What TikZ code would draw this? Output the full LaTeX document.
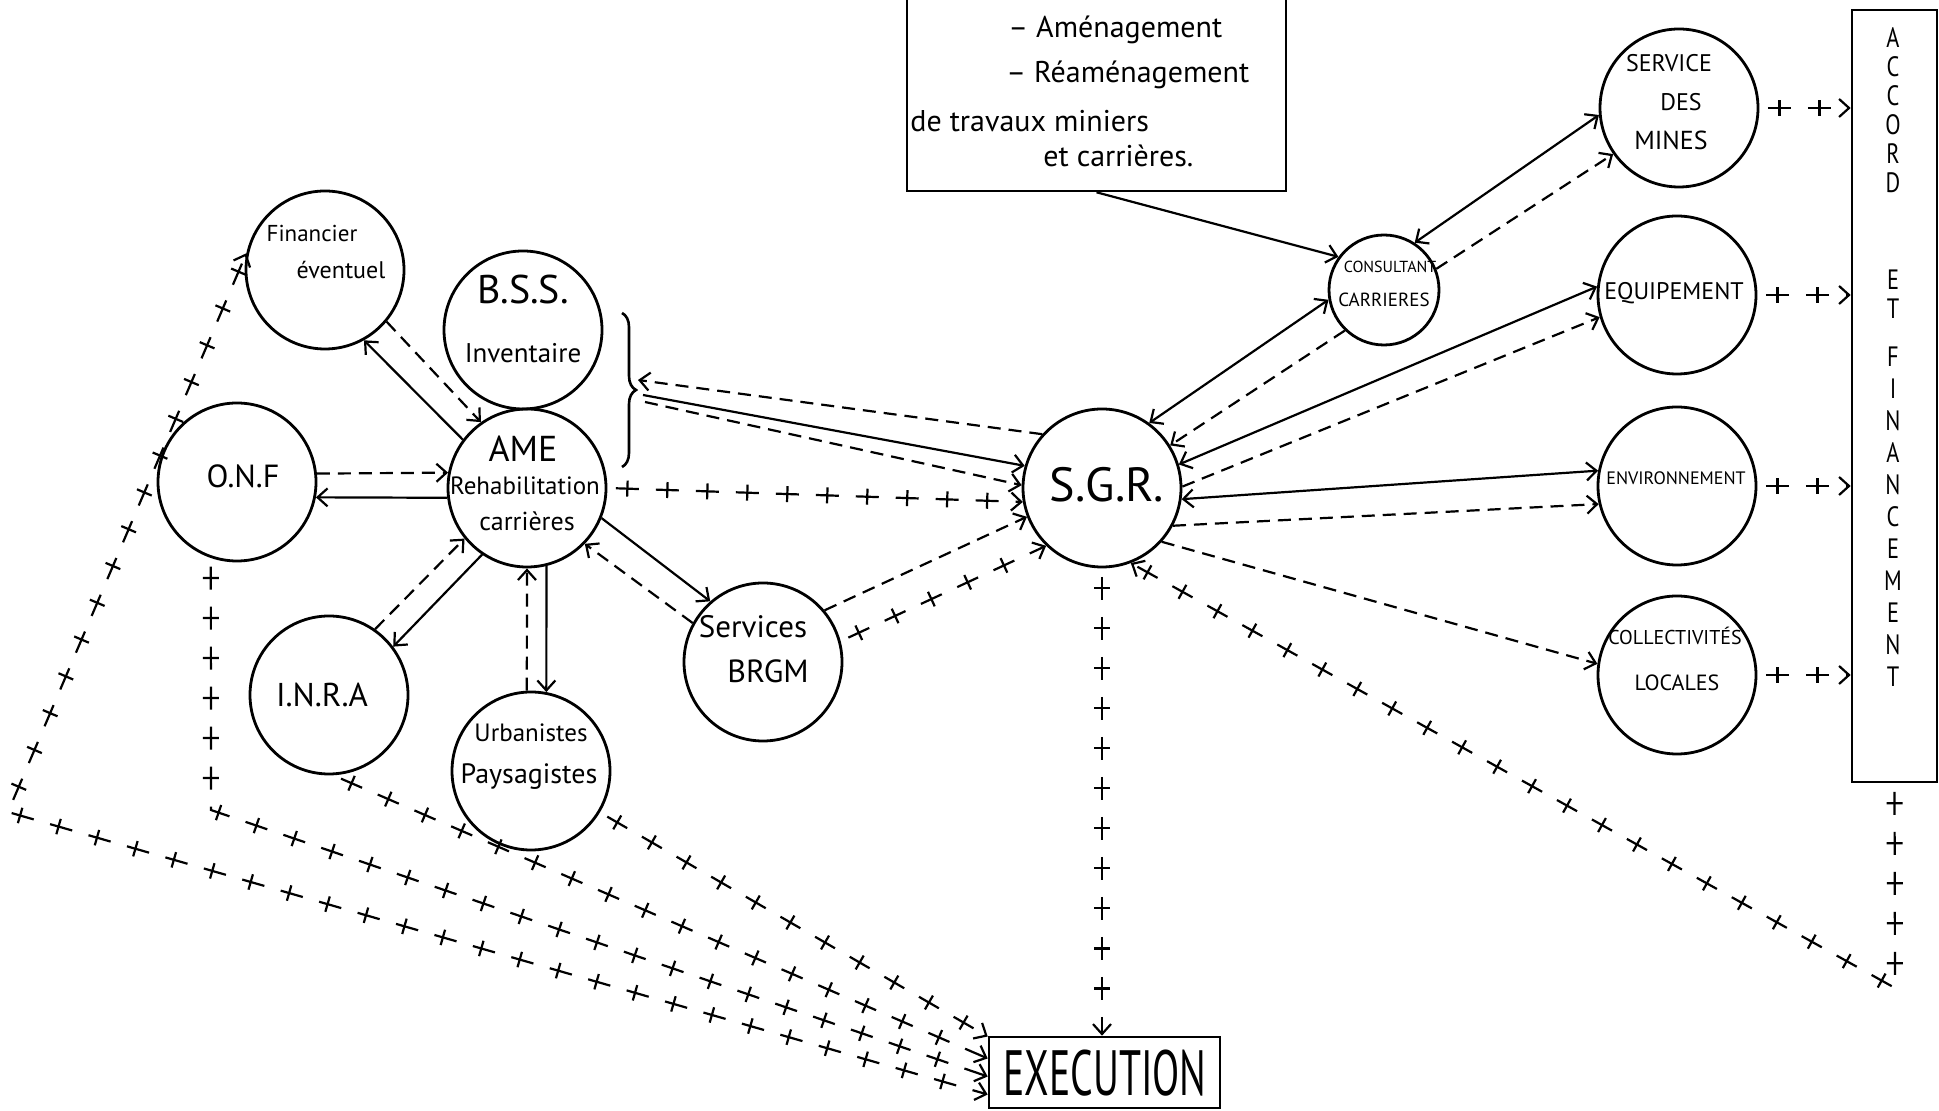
\documentclass[tikz,border=0pt]{standalone}
\usepackage{fontspec}
\setmainfont{PT Sans}
\newfontfamily\etroit[FakeStretch=0.62]{PT Sans}
\newfontfamily\mince[FakeStretch=0.8]{PT Sans}
\usetikzlibrary{arrows.meta,decorations.markings,decorations.pathreplacing}
\newcommand{\taille}[1]{\fontsize{#1}{#1}\selectfont}

\tikzset{
  bulle/.style={circle,draw,line width=1.4pt,minimum size=79pt,inner sep=0pt},
  cadre/.style={rectangle,draw,line width=1.3pt,inner sep=0pt},
  etiq/.style={inner sep=0pt},
  plein/.style={line width=1.1pt},
  tirets/.style={line width=1.1pt,dash pattern=on 6.5pt off 4pt},
  croix/.style={line width=1.1pt,dash pattern=on 11.5pt off 8.5pt,dash phase=15.75pt,
    postaction={decorate,decoration={markings,
      mark=between positions 10pt and -8pt step 20pt with {\draw[-,solid,line width=1.1pt] (0,-4pt) -- (0,4pt);}}}},
}

\begin{document}
\begin{tikzpicture}[x=0.5pt,y=-0.5pt,>={Straight Barb[length=5pt,width=9pt]}]
\useasboundingbox (0,0) rectangle (1939,1111);

% cercles
\node[bulle] (fin) at (325,270) {};
\node[bulle] (bss) at (523,330) {};
\node[bulle] (ame) at (527,488) {};
\node[bulle] (onf) at (237,482) {};
\node[bulle] (inra) at (329,695) {};
\node[bulle] (urba) at (531,771) {};
\node[bulle] (brgm) at (763,662) {};
\node[bulle] (sgr) at (1102,488) {};
\node[bulle,minimum size=55pt] (cons) at (1384,290) {};
\node[bulle] (mines) at (1679,108) {};
\node[bulle] (equip) at (1677,295) {};
\node[bulle] (env) at (1677,486) {};
\node[bulle] (coll) at (1677,675) {};

% cadres
\node[cadre,minimum width=189.5pt,minimum height=110.5pt] (boite) at (1096.5,80.5) {};
\node[cadre,minimum width=42.5pt,minimum height=386pt] (accord) at (1894.5,396) {};
\node[cadre,minimum width=115.5pt,minimum height=35.5pt] (exec) at (1104.5,1072.5) {};

% textes
\node[etiq,font=\taille{11.5}] (t-fin1) at (312,234) {Financier};
\node[etiq,font=\taille{12}] (t-fin2) at (341,270) {éventuel};
\node[etiq,font=\taille{20}] (t-bss1) at (523,290) {B.S.S.};
\node[etiq,font=\taille{13.5}] (t-bss2) at (523,353) {Inventaire};
\node[etiq,font=\taille{18}] (t-ame1) at (523,449) {AME};
\node[etiq,font=\taille{12.5}] (t-ame2) at (525,486) {Rehabilitation};
\node[etiq,font=\taille{13}] (t-ame3) at (527,521) {carrières};
\node[etiq,font=\taille{16}] (t-onf) at (243,476) {O.N.F};
\node[etiq,font=\taille{16.5}] (t-inra) at (322,695) {I.N.R.A};
\node[etiq,font=\taille{12.5}] (t-urba1) at (531,733) {Urbanistes};
\node[etiq,font=\taille{14}] (t-urba2) at (529,777) {Paysagistes};
\node[etiq,font=\taille{15.5}] (t-brgm1) at (753,627) {Services};
\node[etiq,font=\taille{16}] (t-brgm2) at (768,671) {BRGM};
\node[etiq,font=\taille{24}] (t-sgr) at (1107,485) {S.G.R.};
\node[etiq,font=\taille{8}] (t-cons1) at (1390,267) {CONSULTANT};
\node[etiq,font=\taille{9.5}] (t-cons2) at (1384,300) {CARRIERES};
\node[etiq,font=\taille{12}] (t-mines1) at (1669,63) {SERVICE};
\node[etiq,font=\taille{12}] (t-mines2) at (1681,102) {DES};
\node[etiq,font=\taille{13}] (t-mines3) at (1671,140) {MINES};
\node[etiq,font=\taille{12}] (t-equip) at (1674,293) {EQUIPEMENT};
\node[etiq,font=\taille{9}] (t-env) at (1676,478) {ENVIRONNEMENT};
\node[etiq,font=\taille{10}] (t-coll1) at (1675,636) {COLLECTIVITÉS};
\node[etiq,font=\taille{11}] (t-coll2) at (1677,683) {LOCALES};

\node[etiq,font=\taille{15},anchor=base west] (t-b1) at (1008,38) {– Aménagement};
\node[etiq,font=\taille{15},anchor=base west] (t-b2) at (1006,83) {– Réaménagement};
\node[etiq,font=\taille{15},anchor=base west] (t-b3) at (910,132) {de travaux miniers};
\node[etiq,font=\taille{15},anchor=base west] (t-b4) at (1043,167) {et carrières.};

\node[inner sep=0pt,align=center,font=\mince\fontsize{14}{14.5}\selectfont] (t-accord) at (1893,357)
  {A\\C\\C\\O\\R\\D\\[34pt]E\\T\\[9.5pt]F\\[1.5pt]I\\[1.5pt]N\\[1.5pt]A\\[1.5pt]N\\[1.5pt]C\\[1.5pt]E\\[1.5pt]M\\[1.5pt]E\\[1.5pt]N\\[1.5pt]T};
\node[etiq,font=\etroit\taille{32}] (t-exec) at (1105,1073) {EXECUTION};

% liaisons autour de AME
\draw[plein,->] (ame.143) -- (fin.-61);
\draw[tirets,->] (fin.-40) -- (ame.125);
\draw[tirets,->] (onf.6) -- (ame.169);
\draw[plein,->] (ame.187) -- (onf.-11);
\draw[tirets,->] (inra.55) -- (ame.219);
\draw[plein,->] (ame.236) -- (inra.37);
\draw[tirets,->] (urba.93) -- (ame.270);
\draw[plein,->] (ame.-76) -- (urba.79);
\draw[plein,->] (ame.-22) -- (brgm.131);
\draw[tirets,->] (brgm.151) -- (ame.-44);
\draw[croix,->] (ame.0) -- (sgr.190);

% accolade B.S.S. / AME
\draw[decorate,decoration={brace,amplitude=7pt},line width=1.3pt] (622,313) -- (622,467);
\coordinate (acc-h) at (638,380);
\coordinate (acc-m) at (643,395);
\coordinate (acc-b) at (645,402);
\draw[tirets,->] (sgr.138) -- (acc-h);
\draw[plein,->] (acc-m) -- (sgr.164);
\draw[tirets,->] (acc-b) -- (sgr.178);

% BRGM - SGR
\draw[tirets,->] (brgm.40) -- (sgr.201);
\draw[croix,->] (brgm.15) -- (sgr.226);

% SGR - services
\draw[plein,->] (boite.south) -- (cons.144);
\draw[plein,<->] (sgr.54) -- (cons.190);
\draw[tirets,->] (cons.226) -- (sgr.32);
\draw[plein,<->] (cons.57) -- (mines.185);
\draw[tirets,->] (cons.22) -- (mines.215);
\draw[plein,<->] (sgr.17) -- (equip.174);
\draw[tirets,->] (sgr.1) -- (equip.196);
\draw[plein,<->] (sgr.-8) -- (env.169);
\draw[tirets,->] (sgr.-28) -- (env.193);
\draw[tirets,->] (sgr.-42) -- (coll.172);

% vers accord et financement
\draw[croix,->] (mines.east) -- (mines.east -| accord.west);
\draw[croix,->] (equip.east) -- (equip.east -| accord.west);
\draw[croix,->] (env.east) -- (env.east -| accord.west);
\draw[croix,->] (coll.east) -- (coll.east -| accord.west);
\coordinate (c-acc) at (1895,988);
\draw[croix,->] (accord.south) -- (c-acc) -- (sgr.-69);

% vers execution
\coordinate (c-onf) at (211,810);
\coordinate (c-fin) at (8,812);
\draw[croix,->] (sgr.south) -- (sgr.south |- exec.north);
\draw[croix,->] (urba.-31) -- ([yshift=18pt]exec.west);
\draw[croix,->] (inra.-87) -- ([yshift=7pt]exec.west);
\draw[croix,->] (onf.-109) -- (c-onf) -- ([yshift=-2pt]exec.west);
\draw[croix,<->] (fin.168) -- (c-fin) -- ([yshift=-11pt]exec.west);

\end{tikzpicture}
\end{document}
